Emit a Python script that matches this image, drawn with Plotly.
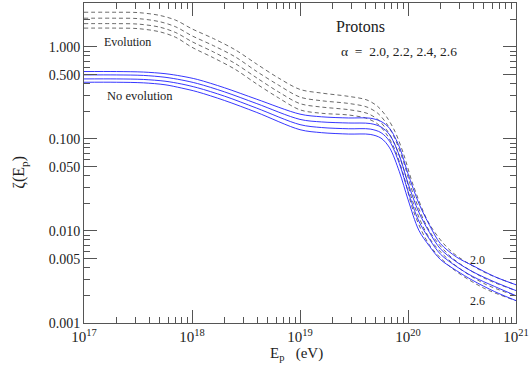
import plotly.graph_objects as go

# ---- data ----
log_e_solid = [17.0, 17.3, 17.55, 17.75, 17.9, 18.05, 18.3, 18.6, 19.0, 19.2, 19.45, 19.65,
               19.75, 19.83, 19.92, 20.0, 20.1, 20.2, 20.3, 20.45, 20.6, 20.8, 21.0]
no_evo_20 = [0.54, 0.54, 0.533, 0.512, 0.482, 0.443, 0.36, 0.27, 0.186, 0.174, 0.169, 0.168,
             0.155, 0.130, 0.082, 0.042, 0.020, 0.0115, 0.0073, 0.0052, 0.0042, 0.0032, 0.0026]
no_evo_22 = [0.496, 0.496, 0.49, 0.468, 0.438, 0.400, 0.325, 0.242, 0.163, 0.153, 0.149, 0.147,
             0.135, 0.111, 0.066, 0.033, 0.0160, 0.0096, 0.0064, 0.0046, 0.0036, 0.0028, 0.00225]
no_evo_24 = [0.449, 0.449, 0.443, 0.424, 0.396, 0.36, 0.292, 0.216, 0.143, 0.133, 0.129, 0.128,
             0.117, 0.094, 0.054, 0.027, 0.0128, 0.0081, 0.0056, 0.0041, 0.0032, 0.0025, 0.00198]
no_evo_26 = [0.413, 0.413, 0.407, 0.388, 0.358, 0.325, 0.262, 0.194, 0.126, 0.117, 0.113, 0.112,
             0.102, 0.080, 0.044, 0.022, 0.0102, 0.0068, 0.0049, 0.0037, 0.0029, 0.0022, 0.00175]

log_e_dash = [17.0, 17.3, 17.5, 17.7, 17.85, 18.0, 18.2, 18.4, 18.6, 18.8, 19.0, 19.2, 19.45,
              19.62, 19.72, 19.8, 19.88, 19.96, 20.05, 20.2, 20.4, 20.7, 21.0]
evo_20 = [2.38, 2.38, 2.36, 2.2, 1.95, 1.57, 1.23, 0.93, 0.65, 0.46, 0.345, 0.315, 0.29,
          0.265, 0.225, 0.175, 0.12, 0.068, 0.031, 0.0118, 0.0060, 0.0036, 0.0026]
evo_22 = [2.05, 2.05, 2.03, 1.88, 1.65, 1.32, 1.03, 0.78, 0.54, 0.385, 0.285, 0.26, 0.243,
          0.222, 0.19, 0.148, 0.100, 0.056, 0.025, 0.0099, 0.0052, 0.0031, 0.00225]
evo_24 = [1.79, 1.79, 1.77, 1.64, 1.43, 1.14, 0.88, 0.66, 0.46, 0.325, 0.242, 0.222, 0.208,
          0.19, 0.163, 0.127, 0.086, 0.047, 0.020, 0.0083, 0.0046, 0.0027, 0.00198]
evo_26 = [1.60, 1.60, 1.58, 1.46, 1.27, 0.99, 0.76, 0.57, 0.395, 0.28, 0.207, 0.19, 0.182,
          0.167, 0.145, 0.113, 0.076, 0.040, 0.0165, 0.0070, 0.0040, 0.0024, 0.00175]

x_tick_vals = [1e17, 1e18, 1e19, 1e20, 1e21]
x_tick_text = ["10<sup>17</sup>", "10<sup>18</sup>", "10<sup>19</sup>", "10<sup>20</sup>", "10<sup>21</sup>"]
y_tick_vals = [0.001, 0.005, 0.01, 0.05, 0.1, 0.5, 1.0]
y_tick_text = ["0.001", "0.005", "0.010", "0.050", "0.100", "0.500", "1.000"]

FONT = "Liberation Serif"
AX = "#555555"
TXT = "#222222"

fig = go.Figure()
for ys in [evo_20, evo_22, evo_24, evo_26]:
    fig.add_trace(go.Scatter(x=[10.0 ** v for v in log_e_dash], y=ys, mode="lines",
                             line=dict(color="#444444", width=0.8, dash="4px,3px", shape="spline", smoothing=0.9),
                             showlegend=False, hoverinfo="skip"))
for ys in [no_evo_20, no_evo_22, no_evo_24, no_evo_26]:
    fig.add_trace(go.Scatter(x=[10.0 ** v for v in log_e_solid], y=ys, mode="lines",
                             line=dict(color="#2020ff", width=0.9, shape="spline", smoothing=0.9),
                             showlegend=False, hoverinfo="skip"))

minor_x = [float(m) * 10.0 ** d for d in range(17, 21) for m in range(2, 10)]
minor_y = [float(m) * 10.0 ** d for d in range(-3, 1) for m in (2, 3, 4, 6, 7, 8, 9)] + [2.0, 3.0]

fig.update_xaxes(type="log", range=[17, 21], tickvals=x_tick_vals, ticktext=x_tick_text,
                 ticks="inside", ticklen=13, tickcolor=AX, tickwidth=1,
                 showline=True, linecolor=AX, linewidth=1, mirror="allticks",
                 showgrid=False, zeroline=False, automargin=False,
                 minor=dict(tickvals=minor_x, ticks="inside", ticklen=6, tickcolor=AX, showgrid=False),
                 tickfont=dict(family=FONT, size=15, color=TXT))
fig.update_yaxes(type="log", range=[-3, 0.4771], tickvals=y_tick_vals, ticktext=y_tick_text,
                 ticks="inside", ticklen=13, tickcolor=AX, tickwidth=1,
                 showline=True, linecolor=AX, linewidth=1, mirror="allticks",
                 showgrid=False, zeroline=False, automargin=False,
                 minor=dict(tickvals=minor_y, ticks="inside", ticklen=6, tickcolor=AX, showgrid=False),
                 tickfont=dict(family=FONT, size=14, color=TXT))


def label(x, y, text, size, angle=0):
    fig.add_annotation(x=x, y=y, xref="paper", yref="paper", text=text, showarrow=False,
                       xanchor="center", yanchor="middle", textangle=angle,
                       font=dict(family=FONT, size=size, color=TXT))


# axis titles
label(0.493, -0.096, "E<sub>p</sub>   (eV)", 15)
label(-0.148, 0.47, "ζ(E<sub>p</sub>)", 16, angle=-90)

# in-plot labels
label(0.641, 0.925, "Protons", 16)
label(0.729, 0.847, "α  =  2.0, 2.2, 2.4, 2.6", 13.5)
label(0.1007, 0.878, "Evolution", 12)
label(0.1285, 0.709, "No evolution", 12.5)
label(0.911, 0.198, "2.0", 12)
label(0.911, 0.070, "2.6", 12)

fig.update_layout(width=530, height=365, margin=dict(l=84, r=14, t=3, b=42),
                  paper_bgcolor="white", plot_bgcolor="white")
fig.write_html("out.html", config={"displayModeBar": False},
               post_script="document.body.style.margin='0px';")
